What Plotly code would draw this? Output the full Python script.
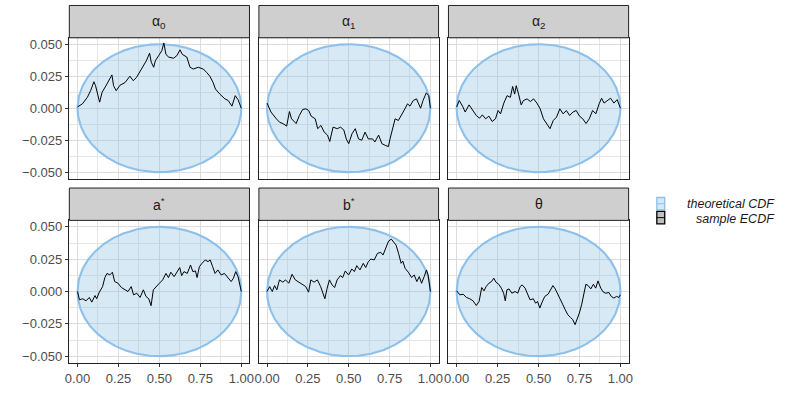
import numpy as np
import plotly.graph_objects as go

# ---------------- data ----------------
panel_titles = ["α<sub>0</sub>", "α<sub>1</sub>", "α<sub>2</sub>",
                "a<sup>*</sup>", "b<sup>*</sup>", "θ"]

alpha0_x = [0, .03, .06, .08, .10, .11, .135, .15, .18, .21, .22, .236, .26, .29, .32, .34, .36, .38, .40, .42,
            .44, .45, .465, .475, .495, .515, .527, .54, .556, .586, .606, .626, .64, .667, .687, .707, .737, .768,
            .788, .808, .828, .842, .869, .90, .92, .943, .963, .98, 1.0]
alpha0_y = [.001, .0034, .0085, .0137, .0207, .0176, .0047, .0124, .019, .026, .0176, .0137, .018, .020, .025, .0215,
            .024, .028, .032, .037, .043, .036, .032, .037, .041, .045, .051, .042, .040, .039, .041, .0456, .042, .040,
            .032, .0306, .032, .0306, .028, .025, .020, .015, .011, .0073, .006, .0016, .0098, .0067, 0]

alpha1_x = [0, .024, .057, .077, .097, .12, .137, .15, .178, .198, .218, .238, .255, .27, .295, .31, .33, .35, .37,
            .384, .404, .43, .45, .47, .485, .5, .52, .54, .56, .58, .6, .62, .646, .66, .683, .703, .723, .743, .753,
            .768, .784, .804, .824, .844, .86, .875, .895, .915, .94, .955, .975, .99, 1.0]
alpha1_y = [.004, -.003, -.0083, -.011, -.012, -.014, -.0026, -.0083, -.012, -.0057, -.001, -.0005, -.0018, -.0062,
            -.0083, -.016, -.0135, -.0187, -.021, -.026, -.0148, -.016, -.0148, -.017, -.024, -.0277, -.020, -.016,
            -.024, -.025, -.0187, -.024, -.024, -.0264, -.021, -.0277, -.029, -.030, -.024, -.016, -.0083, -.0096,
            -.0044, -.0005, .0034, .0016, .006, .0073, 0, .006, .012, .0098, 0]

alpha2_x = [0, .016, .036, .052, .076, .097, .12, .14, .157, .177, .197, .217, .237, .253, .268, .288, .308, .328,
            .342, .354, .364, .378, .394, .408, .43, .45, .47, .49, .51, .53, .55, .57, .59, .61, .63, .65, .67, .69,
            .71, .73, .75, .77, .79, .81, .83, .85, .87, .885, .9, .92, .94, .96, .98, 1.0]
alpha2_y = [.001, .006, .0016, -.003, .0026, -.0018, -.0057, -.0078, -.0052, -.0083, -.0062, -.0104, -.0083, -.0018,
            -.0044, .004, .0098, .0085, .017, .011, .0176, .011, .0026, .006, .0073, .0052, .0073, .004, -.0005,
            -.0083, -.012, -.016, -.0096, -.007, -.0005, -.0044, -.0018, -.0057, -.003, -.0018, -.0062, -.0083,
            -.012, -.0083, -.0018, -.0044, .0034, .0078, .004, .006, .0078, .004, .0067, 0]

astar_x = [0, .012, .032, .052, .072, .087, .107, .117, .133, .153, .167, .18, .197, .213, .227, .247, .268, .288,
           .308, .328, .342, .362, .382, .402, .418, .435, .449, .463, .479, .5, .52, .54, .555, .57, .59, .61, .624,
           .636, .65, .67, .69, .704, .72, .73, .744, .76, .78, .797, .81, .825, .84, .857, .877, .897, .917, .938,
           .952, .966, .98, 1.0]
astar_y = [0, -.0064, -.0056, -.0072, -.0046, -.0082, -.0031, -.0056, -.0005, .0038, .0108, .014, .0128, .0149,
           .0077, .0064, .0031, .0013, 0, .0038, -.0026, -.0013, -.0046, .0013, -.0038, -.0056, -.011, .0013, .0038,
           .0064, .009, .014, .0108, .0149, .0115, .0159, .0185, .0123, .0154, .014, .0205, .0154, .0159, .0108,
           .0192, .0218, .0244, .0231, .0244, .0192, .014, .0167, .0128, .014, .0108, .0077, .0103, .0154, .0115, 0]

bstar_x = [0, .016, .032, .046, .06, .076, .097, .113, .133, .153, .173, .197, .217, .237, .254, .268, .288, .308,
           .328, .342, .354, .368, .382, .398, .414, .429, .449, .463, .479, .499, .519, .535, .549, .569, .589, .604,
           .62, .636, .656, .676, .696, .71, .73, .744, .761, .777, .79, .805, .821, .831, .845, .865, .885, .901,
           .917, .932, .946, .962, .976, .986, 1.0]
bstar_y = [0, .0038, 0, .0046, .0013, .009, .0072, .009, .0064, .0133, .009, .0072, .0051, .0038, -.0005, .009, .0072,
           .009, .0038, -.0013, -.0056, .0026, .009, .0051, .0031, .009, .0123, .0108, .0159, .0128, .0174, .0154,
           .02, .0167, .0218, .0185, .0231, .0251, .0244, .0295, .0303, .0282, .0338, .039, .0405, .038, .0359,
           .0295, .0218, .0236, .018, .0149, .0108, .0128, .0077, .0115, .0064, .0115, .0167, .0128, 0]

theta_x = [0, .02, .04, .06, .08, .1, .12, .137, .153, .167, .18, .197, .213, .227, .24, .257, .273, .287, .297, .307,
           .32, .337, .357, .373, .388, .4, .418, .434, .448, .468, .482, .494, .508, .522, .538, .558, .574, .588,
           .602, .618, .635, .649, .663, .679, .695, .709, .723, .735, .749, .763, .775, .789, .803, .819, .835, .849,
           .863, .88, .896, .91, .93, .944, .96, .976, .99, 1.0]
theta_y = [.0005, -.0026, -.0021, -.0046, -.0056, -.0072, -.0108, -.0077, .0031, .0005, .0038, .0064, .0077, .0103,
           .0072, .0056, .0026, -.0013, -.0072, .0013, .002, -.0013, 0, -.0013, .0038, .0051, .0026, -.0026, -.0064,
           -.0056, -.009, -.0077, -.0128, -.0082, -.0038, -.0021, .002, .0046, .002, -.0026, -.0077, -.0103, -.0141,
           -.018, -.02, -.0218, -.0256, -.0218, -.0167, -.0103, -.0021, .0056, .0046, .002, .0056, .0026, .0082,
           .0026, -.0005, -.0013, -.0008, -.0038, -.0051, -.0038, -.0046, -.0025]

series_x = [alpha0_x, alpha1_x, alpha2_x, astar_x, bstar_x, theta_x]
series_y = [alpha0_y, alpha1_y, alpha2_y, astar_y, bstar_y, theta_y]

band_max = 0.05          # half-width of the theoretical band at x = 0.5
x_ticks = [0, 0.25, 0.5, 0.75, 1.0]
x_ticklabels = ["0.00", "0.25", "0.50", "0.75", "1.00"]
y_ticks = [-0.05, -0.025, 0, 0.025, 0.05]
y_ticklabels = ["−0.050", "−0.025", "0.000", "0.025", "0.050"]
legend_labels = ["theoretical CDF", "sample ECDF"]

# ---------------- layout geometry (pixels) ----------------
W, H = 790, 393
cols_px = [(66, 248), (257.5, 439), (449, 631)]
rows_px = [(37, 178.5), (220.5, 363.5)]   # panel top, bottom
strip_h = 32.5

def px_x(v):
    return v / W

def px_y(v):
    return 1 - v / H

FONT = "Liberation Sans, Arial, sans-serif"
band_fill = "rgba(140,190,228,0.34)"
band_line = "#8DC0EA"
grid_major = "#DCDCDC"
grid_minor = "#E6E6E6"
border = "#222222"
tick_font = dict(size=13, color="#4D4D4D", family=FONT)

fig = go.Figure()
layout = dict(width=W, height=H, margin=dict(l=0, r=0, t=0, b=0),
              paper_bgcolor="white", plot_bgcolor="white", showlegend=False,
              font=dict(family=FONT, size=13, color="#4D4D4D"))
shapes = []
annotations = []

xb = np.linspace(0, 1, 401)
band_upper = band_max * 2 * np.sqrt(xb * (1 - xb))

for i in range(6):
    r, c = divmod(i, 3)
    ax = "" if i == 0 else str(i + 1)
    xa, ya = "x" + ax, "y" + ax
    # band
    fig.add_trace(go.Scatter(x=np.concatenate([xb, xb[::-1]]),
                             y=np.concatenate([band_upper, -band_upper[::-1]]),
                             xaxis=xa, yaxis=ya, mode="lines", fill="toself",
                             fillcolor=band_fill, line=dict(color=band_line, width=2.1),
                             hoverinfo="skip"))
    # sample ECDF difference
    fig.add_trace(go.Scatter(x=series_x[i], y=series_y[i], xaxis=xa, yaxis=ya, mode="lines",
                             line=dict(color="black", width=1)))
    x0, x1 = cols_px[c]
    top, bot = rows_px[r]
    bottom_row = (r == 1)
    left_col = (c == 0)
    layout["xaxis" + ax] = dict(
        domain=[px_x(x0), px_x(x1)], range=[-0.05, 1.05], anchor=ya,
        tickvals=x_ticks, ticktext=x_ticklabels, showticklabels=bottom_row,
        ticks="outside" if bottom_row else "", ticklen=3.5, tickcolor="#333333", tickwidth=1,
        tickfont=tick_font,
        showgrid=True, gridcolor=grid_major, gridwidth=1.1, zeroline=False,
        minor=dict(dtick=0.125, tick0=0, showgrid=True, gridcolor=grid_minor, gridwidth=0.6),
        showline=True, mirror=True, linecolor=border, linewidth=1)
    layout["yaxis" + ax] = dict(
        domain=[px_y(bot), px_y(top)], range=[-0.055, 0.055], anchor=xa,
        tickvals=y_ticks, ticktext=y_ticklabels, showticklabels=left_col,
        ticks="outside" if left_col else "", ticklen=3.5, tickcolor="#333333", tickwidth=1,
        tickfont=tick_font,
        showgrid=True, gridcolor=grid_major, gridwidth=1.1, zeroline=False,
        minor=dict(dtick=0.0125, tick0=-0.05, showgrid=True, gridcolor=grid_minor, gridwidth=0.6),
        showline=True, mirror=True, linecolor=border, linewidth=1)
    # strip
    shapes.append(dict(type="rect", xref="paper", yref="paper",
                       x0=px_x(x0), x1=px_x(x1), y0=px_y(top), y1=px_y(top - strip_h),
                       fillcolor="#CFCFCF", line=dict(color=border, width=1)))
    annotations.append(dict(text=panel_titles[i], xref="paper", yref="paper",
                            x=px_x((x0 + x1) / 2), y=px_y(top - strip_h / 2),
                            xanchor="center", yanchor="middle", showarrow=False,
                            font=dict(size=14, color="#1A1A1A", family=FONT)))

# ---------------- custom legend ----------------
key_x0, key_x1 = 659.5, 667.5
keys = [(197.5, 210, band_fill, band_line), (211.5, 224, "#BEBEBE", "black")]
text_y = [204, 219.5]
for (ky0, ky1, fc, lc), lab, ty in zip(keys, legend_labels, text_y):
    shapes.append(dict(type="rect", xref="paper", yref="paper",
                       x0=px_x(key_x0), x1=px_x(key_x1), y0=px_y(ky1), y1=px_y(ky0),
                       fillcolor=fc, line=dict(color=lc, width=1.3)))
    shapes.append(dict(type="line", xref="paper", yref="paper",
                       x0=px_x(key_x0), x1=px_x(key_x1),
                       y0=px_y((ky0 + ky1) / 2), y1=px_y((ky0 + ky1) / 2),
                       line=dict(color=lc, width=1)))
    annotations.append(dict(text="<i>" + lab + "</i>", xref="paper", yref="paper",
                            x=px_x(781), y=px_y(ty), xanchor="right", yanchor="middle",
                            showarrow=False, font=dict(size=12.5, color="#1A1A1A", family=FONT)))

layout["shapes"] = shapes
layout["annotations"] = annotations
fig.update_layout(**layout)
fig.write_html("out.html")
